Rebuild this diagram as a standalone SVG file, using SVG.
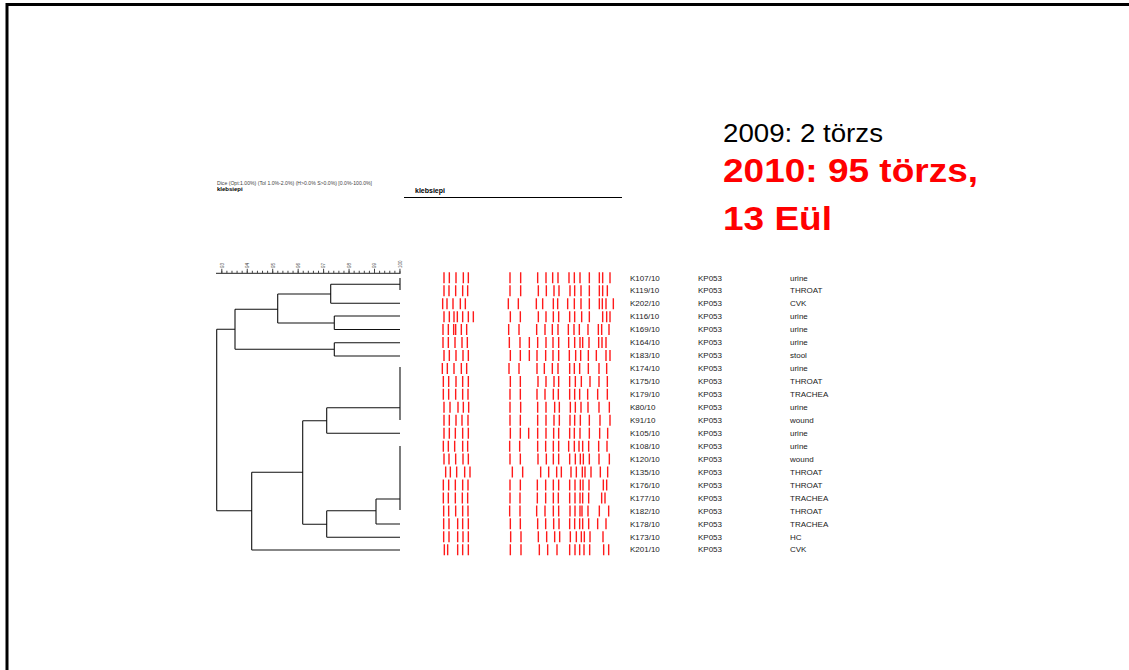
<svg xmlns="http://www.w3.org/2000/svg" width="1129" height="670" viewBox="0 0 1129 670">
<style>
.frame{stroke:#000;stroke-width:3;fill:none}
.tree{stroke:#111;stroke-width:1.1;fill:none}
.band{stroke:#ff1a1a;stroke-width:1.4;fill:none}
.lbl{font-family:"Liberation Sans",Arial,sans-serif;font-size:8px;fill:#222}
.tiny{font-family:"Liberation Sans",Arial,sans-serif;font-size:4.6px;fill:#444}
.hdr{font-family:"Liberation Sans",Arial,sans-serif;font-weight:bold;fill:#000}
.t1{font-family:"Liberation Sans",Arial,sans-serif;font-size:26px;fill:#000}
.t2{font-family:"Liberation Sans",Arial,sans-serif;font-size:33px;font-weight:bold;fill:#ff0000}
</style>
<rect width="1129" height="670" fill="#fff"/>
<g id="frame"><path class="frame" d="M7 672V4.5H1131"/></g>

<g id="title">
<text class="t1" x="723" y="142" textLength="160" lengthAdjust="spacingAndGlyphs">2009: 2 törzs</text>
<text class="t2" x="723" y="182" textLength="255" lengthAdjust="spacingAndGlyphs">2010: 95 törzs,</text>
<text class="t2" x="723" y="229.5" textLength="109" lengthAdjust="spacingAndGlyphs">13 Eül</text>
</g>

<g id="header">
<text class="tiny" x="217" y="184.5" textLength="155" lengthAdjust="spacingAndGlyphs" style="font-size:5px">Dice (Opt:1.00%) (Tol 1.0%-2.0%) (H&gt;0.0% S&gt;0.0%) [0.0%-100.0%]</text>
<text class="hdr" x="217" y="190.5" style="font-size:6px">klebsiepi</text>
<text class="hdr" x="415" y="193" style="font-size:7px">klebsiepi</text>
<path d="M404 197.5H622" stroke="#000" stroke-width="1.2"/>
</g>

<g id="scale">
<path d="M216 273.3H400.5" stroke="#222" stroke-width="1"/>
<path d="M221.3 272H401" stroke="#444" stroke-width="2.6" stroke-dasharray="1 4.09"/>
<path d="M221.3 271H401" stroke="#444" stroke-width="4.6" stroke-dasharray="1 24.45"/>
<text class="tiny" transform="translate(223.6 268) rotate(-90)">93</text>
<text class="tiny" transform="translate(249.1 268) rotate(-90)">94</text>
<text class="tiny" transform="translate(274.5 268) rotate(-90)">95</text>
<text class="tiny" transform="translate(300 268) rotate(-90)">96</text>
<text class="tiny" transform="translate(325.4 268) rotate(-90)">97</text>
<text class="tiny" transform="translate(350.9 268) rotate(-90)">98</text>
<text class="tiny" transform="translate(376.3 268) rotate(-90)">99</text>
<text class="tiny" transform="translate(401.8 268) rotate(-90)">100</text>
</g>

<g id="connectors">
<path class="tree" d="M400 278V290M330.7 284.3H400M330.7 303.3H400M330.7 284.3V303.3
M334.3 316H400M334.3 329.5H400M334.3 316V329.5
M277.7 294H330.7M277.7 323H334.3M277.7 294V323
M334.3 342.7H400M334.3 356H400M334.3 342.7V356
M235 309.3H277.7M235 349.3H334.3M235 309.3V349.3
M216.7 329.3H235M216.7 510.7H251.7M216.7 329.3V510.7
M400 367V420M326.7 407.7H400M326.7 433.3H400M326.7 407.7V433.3
M302.7 420.7H326.7
M400 446V510M376 499H400M376 524H400M376 499V524
M326.7 510.7H376M326.7 537.3H400M326.7 510.7V537.3
M302.7 524.3H326.7M302.7 420.7V524.3
M251.7 472.3H302.7M251.7 550H400M251.7 472.3V550"/>
</g>

<g id="bands" transform="translate(430 0) scale(0.333333 1)">
<g class="band">
<path vector-effect="non-scaling-stroke" transform="translate(0 272.3)" d="M42 0v11M58 0v11M78 0v11M100 0v11M115 0v11M240 0v11M272 0v11M323 0v11M348 0v11M368 0v11M384 0v11M417 0v11M433 0v11M450 0v11M478 0v11M508 0v11M518 0v11M540 0v11"/>
<path vector-effect="non-scaling-stroke" transform="translate(0 285.25)" d="M42 0v11M57 0v11M77 0v11M98 0v11M113 0v11M240 0v11M272 0v11M325 0v11M349 0v11M372 0v11M387 0v11M420 0v11M434 0v11M453 0v11M478 0v11M508 0v11M518 0v11M532 0v11"/>
<path vector-effect="non-scaling-stroke" transform="translate(0 298.2)" d="M38 0v11M51 0v11M69 0v11M91 0v11M106 0v11M235 0v11M265 0v11M319 0v11M338 0v11M370 0v11M383 0v11M413 0v11M433 0v11M453 0v11M478 0v11M508 0v11M517 0v11M528 0v11M550 0v11"/>
<path vector-effect="non-scaling-stroke" transform="translate(0 311.15)" d="M42 0v11M58 0v11M72 0v11M82 0v11M98 0v11M115 0v11M130 0v11M241 0v11M271 0v11M325 0v11M348 0v11M370 0v11M386 0v11M419 0v11M434 0v11M455 0v11M478 0v11M518 0v11M530 0v11M540 0v11"/>
<path vector-effect="non-scaling-stroke" transform="translate(0 324.1)" d="M39 0v11M55 0v11M71 0v11M77 0v11M94 0v11M110 0v11M236 0v11M267 0v11M320 0v11M345 0v11M367 0v11M384 0v11M415 0v11M432 0v11M448 0v11M474 0v11M505 0v11M515 0v11M537 0v11"/>
<path vector-effect="non-scaling-stroke" transform="translate(0 337.05)" d="M39 0v11M55 0v11M75 0v11M96 0v11M112 0v11M238 0v11M270 0v11M298 0v11M323 0v11M348 0v11M369 0v11M386 0v11M416 0v11M434 0v11M450 0v11M458 0v11M477 0v11M506 0v11M516 0v11M528 0v11"/>
<path vector-effect="non-scaling-stroke" transform="translate(0 350)" d="M42 0v11M58 0v11M78 0v11M99 0v11M115 0v11M241 0v11M271 0v11M298 0v11M321 0v11M347 0v11M369 0v11M386 0v11M418 0v11M437 0v11M452 0v11M475 0v11M499 0v11M528 0v11M540 0v11"/>
<path vector-effect="non-scaling-stroke" transform="translate(0 362.95)" d="M37 0v11M52 0v11M72 0v11M94 0v11M110 0v11M237 0v11M267 0v11M321 0v11M343 0v11M367 0v11M384 0v11M419 0v11M433 0v11M449 0v11M475 0v11M507 0v11M530 0v11"/>
<path vector-effect="non-scaling-stroke" transform="translate(0 375.9)" d="M40 0v11M56 0v11M78 0v11M98 0v11M115 0v11M241 0v11M271 0v11M324 0v11M348 0v11M372 0v11M386 0v11M419 0v11M436 0v11M454 0v11M480 0v11M507 0v11M532 0v11"/>
<path vector-effect="non-scaling-stroke" transform="translate(0 388.85)" d="M40 0v11M56 0v11M77 0v11M98 0v11M114 0v11M240 0v11M271 0v11M321 0v11M345 0v11M370 0v11M385 0v11M419 0v11M434 0v11M449 0v11M473 0v11M503 0v11M532 0v11"/>
<path vector-effect="non-scaling-stroke" transform="translate(0 401.8)" d="M42 0v11M60 0v11M84 0v11M100 0v11M116 0v11M240 0v11M272 0v11M323 0v11M348 0v11M374 0v11M388 0v11M421 0v11M436 0v11M453 0v11M474 0v11M507 0v11M538 0v11"/>
<path vector-effect="non-scaling-stroke" transform="translate(0 414.75)" d="M42 0v11M58 0v11M78 0v11M96 0v11M114 0v11M240 0v11M271 0v11M323 0v11M348 0v11M372 0v11M388 0v11M420 0v11M434 0v11M451 0v11M478 0v11M510 0v11M540 0v11"/>
<path vector-effect="non-scaling-stroke" transform="translate(0 427.7)" d="M42 0v11M58 0v11M76 0v11M98 0v11M115 0v11M241 0v11M271 0v11M296 0v11M323 0v11M348 0v11M371 0v11M386 0v11M419 0v11M433 0v11M450 0v11M478 0v11M509 0v11M533 0v11"/>
<path vector-effect="non-scaling-stroke" transform="translate(0 440.65)" d="M40 0v11M55 0v11M74 0v11M98 0v11M113 0v11M239 0v11M269 0v11M323 0v11M347 0v11M370 0v11M386 0v11M416 0v11M433 0v11M447 0v11M458 0v11M476 0v11M506 0v11M531 0v11"/>
<path vector-effect="non-scaling-stroke" transform="translate(0 453.6)" d="M42 0v11M57 0v11M77 0v11M99 0v11M115 0v11M240 0v11M271 0v11M324 0v11M349 0v11M370 0v11M386 0v11M419 0v11M436 0v11M451 0v11M460 0v11M478 0v11M507 0v11M538 0v11"/>
<path vector-effect="non-scaling-stroke" transform="translate(0 466.55)" d="M47 0v11M61 0v11M80 0v11M104 0v11M120 0v11M247 0v11M278 0v11M332 0v11M356 0v11M380 0v11M394 0v11M423 0v11M439 0v11M457 0v11M465 0v11M483 0v11M511 0v11M533 0v11"/>
<path vector-effect="non-scaling-stroke" transform="translate(0 479.5)" d="M40 0v11M56 0v11M76 0v11M98 0v11M114 0v11M240 0v11M271 0v11M322 0v11M347 0v11M370 0v11M386 0v11M419 0v11M435 0v11M451 0v11M459 0v11M477 0v11M520 0v11M530 0v11"/>
<path vector-effect="non-scaling-stroke" transform="translate(0 492.45)" d="M40 0v11M55 0v11M76 0v11M97 0v11M113 0v11M240 0v11M270 0v11M322 0v11M347 0v11M370 0v11M385 0v11M419 0v11M435 0v11M450 0v11M458 0v11M476 0v11M515 0v11M525 0v11"/>
<path vector-effect="non-scaling-stroke" transform="translate(0 505.4)" d="M41 0v11M56 0v11M77 0v11M98 0v11M114 0v11M239 0v11M270 0v11M320 0v11M345 0v11M370 0v11M386 0v11M420 0v11M435 0v11M450 0v11M456 0v11M474 0v11M508 0v11M536 0v11"/>
<path vector-effect="non-scaling-stroke" transform="translate(0 518.35)" d="M41 0v11M57 0v11M83 0v11M98 0v11M115 0v11M241 0v11M271 0v11M323 0v11M347 0v11M371 0v11M387 0v11M419 0v11M434 0v11M449 0v11M458 0v11M476 0v11M503 0v11M528 0v11"/>
<path vector-effect="non-scaling-stroke" transform="translate(0 531.3)" d="M41 0v11M57 0v11M83 0v11M99 0v11M115 0v11M242 0v11M273 0v11M325 0v11M350 0v11M374 0v11M389 0v11M421 0v11M439 0v11M454 0v11M463 0v11M480 0v11M519 0v11"/>
<path vector-effect="non-scaling-stroke" transform="translate(0 544.25)" d="M43 0v11M53 0v11M83 0v11M98 0v11M115 0v11M241 0v11M273 0v11M328 0v11M353 0v11M381 0v11M419 0v11M435 0v11M449 0v11M462 0v11M479 0v11M521 0v11M536 0v11"/>
</g>
</g>

<g id="labels" class="lbl">
<g id="row0"><text x="630" y="280.5">K107/10</text><text x="698" y="280.5">KP053</text><text x="790" y="280.5">urine</text></g>
<g id="row1"><text x="630" y="293.45">K119/10</text><text x="698" y="293.45">KP053</text><text x="790" y="293.45">THROAT</text></g>
<g id="row2"><text x="630" y="306.4">K202/10</text><text x="698" y="306.4">KP053</text><text x="790" y="306.4">CVK</text></g>
<g id="row3"><text x="630" y="319.35">K116/10</text><text x="698" y="319.35">KP053</text><text x="790" y="319.35">urine</text></g>
<g id="row4"><text x="630" y="332.3">K169/10</text><text x="698" y="332.3">KP053</text><text x="790" y="332.3">urine</text></g>
<g id="row5"><text x="630" y="345.25">K164/10</text><text x="698" y="345.25">KP053</text><text x="790" y="345.25">urine</text></g>
<g id="row6"><text x="630" y="358.2">K183/10</text><text x="698" y="358.2">KP053</text><text x="790" y="358.2">stool</text></g>
<g id="row7"><text x="630" y="371.15">K174/10</text><text x="698" y="371.15">KP053</text><text x="790" y="371.15">urine</text></g>
<g id="row8"><text x="630" y="384.1">K175/10</text><text x="698" y="384.1">KP053</text><text x="790" y="384.1">THROAT</text></g>
<g id="row9"><text x="630" y="397.05">K179/10</text><text x="698" y="397.05">KP053</text><text x="790" y="397.05">TRACHEA</text></g>
<g id="row10"><text x="630" y="410">K80/10</text><text x="698" y="410">KP053</text><text x="790" y="410">urine</text></g>
<g id="row11"><text x="630" y="422.95">K91/10</text><text x="698" y="422.95">KP053</text><text x="790" y="422.95">wound</text></g>
<g id="row12"><text x="630" y="435.9">K105/10</text><text x="698" y="435.9">KP053</text><text x="790" y="435.9">urine</text></g>
<g id="row13"><text x="630" y="448.85">K108/10</text><text x="698" y="448.85">KP053</text><text x="790" y="448.85">urine</text></g>
<g id="row14"><text x="630" y="461.8">K120/10</text><text x="698" y="461.8">KP053</text><text x="790" y="461.8">wound</text></g>
<g id="row15"><text x="630" y="474.75">K135/10</text><text x="698" y="474.75">KP053</text><text x="790" y="474.75">THROAT</text></g>
<g id="row16"><text x="630" y="487.7">K176/10</text><text x="698" y="487.7">KP053</text><text x="790" y="487.7">THROAT</text></g>
<g id="row17"><text x="630" y="500.65">K177/10</text><text x="698" y="500.65">KP053</text><text x="790" y="500.65">TRACHEA</text></g>
<g id="row18"><text x="630" y="513.6">K182/10</text><text x="698" y="513.6">KP053</text><text x="790" y="513.6">THROAT</text></g>
<g id="row19"><text x="630" y="526.55">K178/10</text><text x="698" y="526.55">KP053</text><text x="790" y="526.55">TRACHEA</text></g>
<g id="row20"><text x="630" y="539.5">K173/10</text><text x="698" y="539.5">KP053</text><text x="790" y="539.5">HC</text></g>
<g id="row21"><text x="630" y="552.45">K201/10</text><text x="698" y="552.45">KP053</text><text x="790" y="552.45">CVK</text></g>
</g>
</svg>
